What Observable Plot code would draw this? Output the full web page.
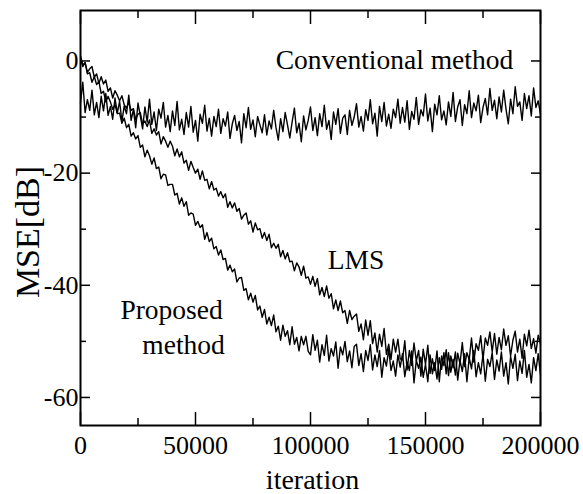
<!DOCTYPE html>
<html>
<head>
<meta charset="utf-8">
<script src="https://cdn.jsdelivr.net/npm/d3@7"></script>
<script src="https://cdn.jsdelivr.net/npm/@observablehq/plot@0.6"></script>
<style>
  html, body { margin: 0; padding: 0; background: #fff; }
  #chart svg { display: block; }
</style>
</head>
<body>
<div id="chart"></div>
<script>
// iteration step between consecutive samples
const STEP = 1000;

// MSE [dB], one value every 1000 iterations (0 .. 200000)
const conventional = [
  -7.5, -3.8, -9.2, -6.9, -8.8, -5.2, -9.6, -7.4, -10.1, -6.3, -8.9, -5.8, -9.7, -8.1, -10.4, -6.6, -9.3, -7.2, -10.8, -8.0,
  -9.4, -6.1, -10.6, -8.7, -11.9, -7.5, -9.8, -12.1, -8.2, -10.9, -6.8, -11.3, -9.1, -12.4, -8.6, -10.2, -7.4, -11.8, -9.7, -12.6,
  -8.9, -11.5, -7.2, -12.3, -10.4, -13.1, -9.2, -11.8, -8.1, -12.7, -10.6, -14.3, -9.5, -11.1, -7.9, -12.5, -10.2, -13.4, -9.9, -11.7,
  -8.6, -12.9, -10.3, -11.6, -9.1, -13.8, -11.2, -9.7, -12.4, -10.8, -14.6, -9.4, -11.9, -8.3, -12.2, -10.5, -13.5, -9.9, -11.4, -12.8,
  -9.6, -13.2, -10.7, -12.1, -8.8, -11.9, -14.1, -10.3, -12.6, -9.2, -11.4, -13.7, -10.9, -8.4, -12.8, -11.1, -14.4, -9.8, -12.3, -10.6,
  -8.2, -12.4, -10.1, -13.3, -9.4, -11.7, -7.9, -12.2, -10.6, -14.0, -9.1, -11.3, -8.5, -12.9, -10.2, -9.6, -13.1, -8.8, -11.5, -10.0,
  -7.6, -11.8, -9.9, -12.5, -8.7, -10.6, -6.9, -11.2, -9.3, -13.4, -8.1, -10.8, -7.4, -11.6, -9.5, -12.0, -8.6, -10.1, -6.8, -11.1,
  -8.3, -10.9, -7.1, -12.2, -9.0, -10.4, -6.5, -11.3, -8.7, -9.8, -5.9, -10.7, -8.4, -12.6, -7.7, -9.6, -6.2, -10.5, -8.9, -11.4,
  -7.3, -9.9, -5.6, -10.8, -8.2, -6.9, -11.5, -7.8, -9.4, -5.3, -10.1, -7.5, -8.9, -6.1, -11.0, -8.3, -6.7, -9.6, -4.9, -8.8,
  -7.0, -10.3, -6.4, -9.1, -5.2, -8.6, -11.2, -6.8, -9.4, -4.6, -8.1, -7.3, -10.6, -5.8, -8.5, -6.2, -9.8, -4.8, -8.3, -7.1,
  -9.5
];

const lms = [
  0.9, -0.7, -0.3, -2.0, -1.4, -1.0, -2.9, -2.3, -4.0, -2.8, -4.1, -3.4, -5.4, -4.8, -6.6, -5.3, -6.1, -7.1, -6.2, -7.8,
  -8.4, -7.4, -8.8, -8.5, -10.4, -9.5, -9.2, -11.2, -10.7, -11.7, -10.5, -12.9, -12.1, -13.2, -12.6, -14.8, -13.5, -14.3, -15.4, -14.3,
  -15.2, -16.9, -15.7, -17.1, -16.2, -18.2, -17.7, -19.5, -17.9, -19.0, -20.0, -19.3, -21.1, -19.6, -21.3, -21.1, -22.8, -21.5, -23.0, -22.7,
  -24.1, -23.3, -24.4, -23.7, -26.1, -25.1, -26.2, -25.3, -26.8, -26.3, -28.2, -27.5, -27.1, -29.1, -28.5, -30.5, -28.9, -30.1, -29.9, -31.6,
  -30.6, -32.0, -30.9, -33.3, -32.5, -33.4, -32.7, -34.9, -33.8, -35.3, -34.2, -35.8, -35.7, -37.4, -36.0, -36.7, -38.2, -36.6, -38.7, -38.5,
  -39.8, -38.4, -40.2, -38.8, -41.7, -40.4, -42.0, -40.1, -42.3, -41.5, -44.2, -42.6, -44.5, -42.8, -44.9, -44.5, -46.8, -44.5, -46.1, -45.5,
  -45.1, -48.2, -46.9, -49.7, -46.2, -48.9, -46.3, -50.4, -48.5, -51.9, -48.7, -50.9, -47.7, -52.3, -50.5, -53.2, -49.6, -51.9, -49.6, -53.1,
  -53.3, -49.9, -55.1, -51.6, -54.3, -50.3, -53.5, -51.6, -56.2, -51.4, -54.1, -50.7, -55.7, -53.1, -55.2, -51.7, -57.2, -52.6, -54.3, -51.5,
  -56.1, -52.6, -54.7, -51.9, -56.9, -53.4, -55.4, -52.2, -57.2, -52.9, -54.9, -51.6, -56.3, -53.8, -55.8, -52.3, -57.1, -53.2, -54.5, -52.0,
  -56.8, -53.3, -55.3, -51.9, -56.2, -53.8, -57.6, -52.7, -54.8, -52.3, -57.0, -53.5, -55.7, -51.6, -56.4, -54.1, -57.4, -52.9, -55.2, -52.2,
  -56.0
];

const proposed = [
  0.5, -1.0, -0.3, -2.3, -2.1, -3.8, -2.8, -4.2, -3.7, -5.8, -5.4, -7.3, -6.3, -7.3, -8.6, -7.8, -9.4, -9.3, -11.1, -10.2,
  -11.9, -11.3, -13.4, -12.8, -13.9, -13.3, -15.4, -15.0, -17.1, -15.9, -16.9, -18.4, -17.3, -19.2, -18.9, -21.0, -20.2, -20.3, -22.2, -22.0,
  -22.0, -23.9, -23.6, -25.5, -24.4, -25.9, -25.1, -27.5, -27.1, -27.3, -29.3, -28.6, -29.7, -29.2, -31.8, -30.6, -32.2, -31.6, -33.5, -33.1,
  -34.6, -33.7, -35.4, -35.2, -37.3, -36.4, -37.6, -37.1, -39.4, -38.7, -38.6, -40.9, -40.6, -42.6, -41.4, -43.0, -41.8, -44.4, -43.7, -45.7,
  -44.3, -46.9, -45.7, -47.2, -45.3, -48.3, -47.3, -49.8, -47.1, -49.1, -48.1, -50.6, -47.4, -50.5, -49.3, -51.7, -49.1, -50.6, -49.1, -51.8,
  -52.4, -48.8, -51.6, -49.8, -53.7, -50.6, -52.5, -48.9, -53.5, -51.3, -52.6, -50.1, -54.8, -51.0, -52.4, -50.0, -53.6, -51.7, -54.7, -50.9,
  -50.5, -54.3, -52.2, -55.4, -51.6, -53.4, -50.6, -55.1, -52.4, -54.5, -51.6, -56.4, -52.9, -54.4, -51.4, -55.2, -53.5, -56.2, -52.4, -54.6,
  -52.2, -56.3, -53.7, -55.2, -51.7, -57.4, -53.4, -54.8, -52.8, -56.4, -54.1, -57.2, -52.4, -55.8, -53.8, -56.7, -52.9, -55.0, -52.0, -55.8,
  -52.0, -55.5, -53.2, -56.0, -52.1, -54.0, -50.2, -54.5, -52.0, -53.3, -49.4, -53.7, -50.4, -51.6, -49.0, -53.2, -49.4, -50.7, -48.3, -51.9,
  -48.6, -52.3, -49.3, -51.5, -47.8, -50.7, -49.0, -52.6, -49.8, -48.2, -51.9, -49.6, -53.0, -48.7, -50.8, -48.0, -51.3, -49.5, -52.1, -48.9,
  -50.5
];

// axis ticks
const xMajorTicks = [0, 50000, 100000, 150000, 200000];
const xMinorTicks = [25000, 75000, 125000, 175000];
const yMajorTicks = [0, -20, -40, -60];
const yMinorTicks = [-10, -30, -50];

// axis titles
const xTitle = "iteration";
const yTitle = "MSE[dB]";

// annotations (anchor in data units)
const annotations = [
  {label: "Conventional method", iter: 136500, mse: 0.1},
  {label: "LMS", iter: 119800, mse: -35.6},
  {label: "Proposed", iter: 39600, mse: -44.4},
  {label: "method", iter: 44800, mse: -50.6}
];

const toRows = (arr) => arr.map((v, i) => ({iter: i * STEP, mse: v}));

const FONT = "'Liberation Serif', 'Times New Roman', serif";

const chart = Plot.plot({
  width: 583,
  height: 494,
  marginLeft: 80,
  marginRight: 43,
  marginTop: 10,
  marginBottom: 69,
  style: {fontFamily: FONT, fontSize: "26px", color: "#000", background: "#fff"},
  x: {domain: [0, 200000]},
  y: {domain: [-65, 9]},
  marks: [
    Plot.line(toRows(conventional), {x: "iter", y: "mse", stroke: "#000", strokeWidth: 1.4}),
    Plot.line(toRows(lms), {x: "iter", y: "mse", stroke: "#000", strokeWidth: 1.4}),
    Plot.line(toRows(proposed), {x: "iter", y: "mse", stroke: "#000", strokeWidth: 1.4}),
    Plot.frame({stroke: "#000", strokeWidth: 2}),
    // bottom axis
    Plot.axisX(xMajorTicks, {anchor: "bottom", tickSize: -13, tickPadding: 23, strokeWidth: 1.5,
      tickFormat: (d) => String(d), fontSize: 26, label: null}),
    Plot.axisX(xMinorTicks, {anchor: "bottom", tickSize: -7, strokeWidth: 1.5, tickFormat: () => "", label: null}),
    // top axis (mirror ticks)
    Plot.axisX(xMajorTicks, {anchor: "top", tickSize: -13, strokeWidth: 1.5, tickFormat: () => "", label: null}),
    Plot.axisX(xMinorTicks, {anchor: "top", tickSize: -7, strokeWidth: 1.5, tickFormat: () => "", label: null}),
    // left axis
    Plot.axisY(yMajorTicks, {anchor: "left", tickSize: -10, tickPadding: 12, strokeWidth: 1.5,
      tickFormat: (d) => String(d), fontSize: 26, label: null}),
    Plot.axisY(yMinorTicks, {anchor: "left", tickSize: -6, strokeWidth: 1.5, tickFormat: () => "", label: null}),
    // right axis (mirror ticks)
    Plot.axisY(yMajorTicks, {anchor: "right", tickSize: -10, strokeWidth: 1.5, tickFormat: () => "", label: null}),
    Plot.axisY(yMinorTicks, {anchor: "right", tickSize: -6, strokeWidth: 1.5, tickFormat: () => "", label: null}),
    // axis titles
    Plot.text([xTitle], {frameAnchor: "bottom", lineAnchor: "middle", textAnchor: "middle",
      dy: 55, dx: 2, fontSize: 28, fill: "#000"}),
    Plot.text([yTitle], {frameAnchor: "left", lineAnchor: "middle", textAnchor: "middle",
      rotate: -90, dx: -52, dy: 14, fontSize: 34, fill: "#000"}),
    // curve annotations
    Plot.text(annotations, {x: "iter", y: "mse", text: "label", fontSize: 27.5, fill: "#000", textAnchor: "middle"})
  ]
});

document.getElementById("chart").appendChild(chart);
</script>
</body>
</html>
